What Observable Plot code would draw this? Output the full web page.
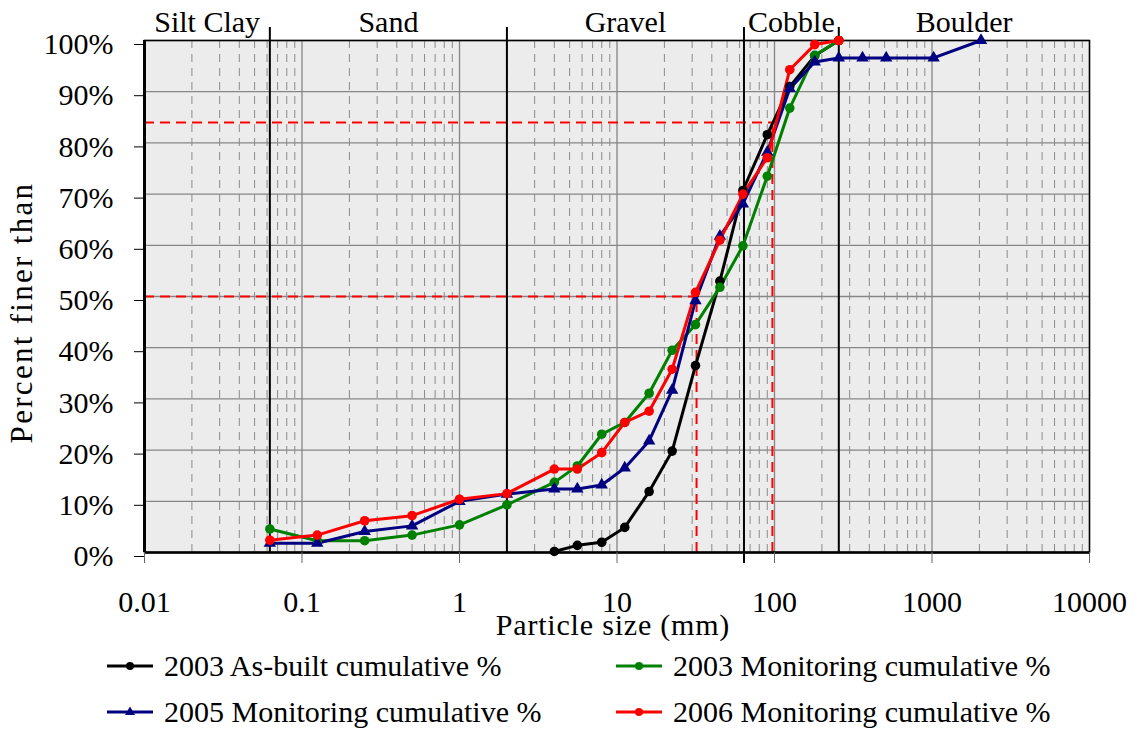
<!DOCTYPE html>
<html><head><meta charset="utf-8">
<script src="https://cdn.jsdelivr.net/npm/d3@7"></script>
<script src="https://cdn.jsdelivr.net/npm/@observablehq/plot@0.6"></script>
<style>
body{margin:0;background:#fff;font-family:"Liberation Serif","Times New Roman",serif;color:#000;}
#legend{display:grid;grid-template-columns:509px auto;padding-left:107px;margin-top:-2px;font-size:30px;}
.item{display:flex;align-items:center;height:46px;white-space:nowrap;}
.item svg{margin-right:11px;}
</style></head><body><div id="chart"></div><div id="legend"></div>
<script>
// ---- data ----
const xTicks = [0.01, 0.1, 1, 10, 100, 1000, 10000];
const yTicks = [0, 10, 20, 30, 40, 50, 60, 70, 80, 90, 100];
const classEdges = [0.01, 0.0625, 2, 64, 256, 10000];
const classNames = ["Silt Clay", "Sand", "Gravel", "Cobble", "Boulder"];
const classBoundaries = [0.0625, 2, 64, 256];

const sizesAsBuilt = [4, 5.6, 8, 11.2, 16, 22.4, 31.5, 45, 63, 90, 125, 180, 256];
const asBuilt2003 = [0.2, 1.4, 2.0, 4.9, 11.9, 19.8, 36.5, 53.0, 70.7, 81.6, 91.0, 97.0, 100];

const sizesMon2003 = [0.0625, 0.125, 0.25, 0.5, 1, 2, 4, 5.6, 8, 11.2, 16, 22.4, 31.5, 45, 63, 90, 125, 180, 256];
const monitoring2003 = [4.6, 2.3, 2.3, 3.4, 5.4, 9.3, 13.7, 16.9, 23.1, 25.4, 31.1, 39.5, 44.5, 51.8, 59.9, 73.5, 86.8, 97.1, 100];

const sizesMon2005 = [0.0625, 0.125, 0.25, 0.5, 1, 2, 4, 5.6, 8, 11.2, 16, 22.4, 31.5, 45, 63, 90, 125, 180, 256, 362, 512, 1024, 2048];
const monitoring2005 = [1.8, 1.8, 4.1, 5.2, 10.0, 11.4, 12.4, 12.4, 13.2, 16.5, 21.8, 31.7, 49.2, 61.8, 68.1, 78.2, 90.6, 95.8, 96.6, 96.6, 96.6, 96.6, 100];

const sizesMon2006 = [0.0625, 0.125, 0.25, 0.5, 1, 2, 4, 5.6, 8, 11.2, 16, 22.4, 31.5, 45, 63, 90, 125, 180, 256];
const monitoring2006 = [2.4, 3.4, 6.2, 7.2, 10.4, 11.5, 16.3, 16.3, 19.5, 25.4, 27.6, 35.8, 50.8, 61.0, 70.0, 77.1, 94.3, 99.2, 100];

const seriesNames = ["2003 As-built cumulative %", "2003 Monitoring cumulative %", "2005 Monitoring cumulative %", "2006 Monitoring cumulative %"];
const seriesColors = ["#000000", "#008000", "#000080", "#ff0000"];
const seriesSymbols = ["circle", "circle", "triangle", "circle"];

const percentiles = [50, 84];
const percentileSizes = [32, 97];

// ---- build tables ----
const seriesSizes = [sizesAsBuilt, sizesMon2003, sizesMon2005, sizesMon2006];
const seriesValues = [asBuilt2003, monitoring2003, monitoring2005, monitoring2006];
const series = seriesNames.map((name, i) => ({
  name, color: seriesColors[i], symbol: seriesSymbols[i],
  rows: seriesSizes[i].map((s, j) => ({size: s, pct: seriesValues[i][j]}))
}));
const dLines = percentiles.map((p, i) => ({p, d: percentileSizes[i]}));
const minorTicks = [];
for (let k = 0; k < xTicks.length - 1; k++) for (let m = 2; m <= 9; m++) minorTicks.push(xTicks[k] * m);
const classes = classNames.map((n, i) => ({name: n, x: Math.sqrt(classEdges[i] * classEdges[i + 1])}));

const seriesMarks = [];
for (const s of series) {
  seriesMarks.push(Plot.line(s.rows, {x: "size", y: "pct", stroke: s.color, strokeWidth: 3}));
}
for (const s of series) {
  seriesMarks.push(Plot.dot(s.rows, {x: "size", y: "pct", fill: s.color, stroke: "none",
    symbol: s.symbol, r: s.symbol === "triangle" ? 4.6 : 4.8}));
}

const chart = Plot.plot({
  width: 1137, height: 645,
  marginLeft: 144, marginRight: 48, marginTop: 40, marginBottom: 93,
  style: {fontFamily: "'Liberation Serif','Times New Roman',serif", fontSize: "30px", color: "#000", background: "#fff"},
  x: {type: "log", domain: [xTicks[0], xTicks[xTicks.length - 1]]},
  y: {domain: [yTicks[0], yTicks[yTicks.length - 1]]},
  marks: [
    Plot.frame({fill: "#ececec"}),
    Plot.ruleY(yTicks, {stroke: "#868686", strokeWidth: 1.3}),
    Plot.ruleX(minorTicks, {stroke: "#8a8a8a", strokeWidth: 1, strokeDasharray: "8,6"}),
    Plot.ruleX(xTicks, {stroke: "#868686", strokeWidth: 1.3}),
    Plot.ruleY(dLines, {y: "p", x1: xTicks[0], x2: "d", stroke: "#ff0000", strokeWidth: 2, strokeDasharray: "10,6"}),
    Plot.ruleX(dLines, {x: "d", y1: yTicks[0], y2: "p", stroke: "#ff0000", strokeWidth: 2, strokeDasharray: "10,6"}),
    Plot.ruleX(classBoundaries, {stroke: "#000", strokeWidth: 2, insetTop: -13}),
    Plot.ruleX(classBoundaries.filter(d => d === 64), {stroke: "#000", strokeWidth: 2, insetTop: 500, insetBottom: -11}),
    Plot.frame({stroke: "#000", strokeWidth: 1.5}),
    Plot.ruleX([xTicks[0]], {stroke: "#000", strokeWidth: 3}),
    Plot.ruleY([yTicks[0]], {stroke: "#000", strokeWidth: 2.5}),
    ...seriesMarks,
    Plot.axisX({ticks: xTicks, tickFormat: d => String(d), tickSize: 11, tickPadding: 27, stroke: "#666", label: null}),
    Plot.axisY({ticks: yTicks, tickFormat: d => d + "%", tickSize: 10, tickPadding: 21, dy: 4, label: null}),
    Plot.text(classes, {x: "x", text: "name", frameAnchor: "top", lineAnchor: "middle", dy: -18, fontSize: 30}),
    Plot.text(["Particle size (mm)"], {frameAnchor: "bottom", lineAnchor: "middle", textAnchor: "middle", dy: 73, dx: -4, fontSize: 30}),
    Plot.text(["Percent finer than"], {frameAnchor: "left", lineAnchor: "middle", textAnchor: "middle", dx: -122, dy: 16, rotate: -90, fontSize: 31})
  ]
});
d3.select(chart).selectAll("text").filter(function () { return this.textContent === "Percent finer than"; }).attr("letter-spacing", "2.3px");
d3.select(chart).selectAll("text").filter(function () { return this.textContent === "Particle size (mm)"; }).attr("letter-spacing", "0.8px");
document.getElementById("chart").appendChild(chart);

// ---- legend ----
const legend = document.getElementById("legend");
for (const s of series) {
  const item = document.createElement("div");
  item.className = "item";
  const marker = s.symbol === "triangle"
    ? `<path d="M23,4.5 L28,13 L18,13 Z" fill="${s.color}"/>`
    : `<circle cx="23" cy="10" r="4" fill="${s.color}"/>`;
  item.innerHTML = `<svg width="46" height="20"><line x1="0" y1="10" x2="46" y2="10" stroke="${s.color}" stroke-width="3"/>${marker}</svg><span>${s.name}</span>`;
  legend.appendChild(item);
}
</script></body></html>
